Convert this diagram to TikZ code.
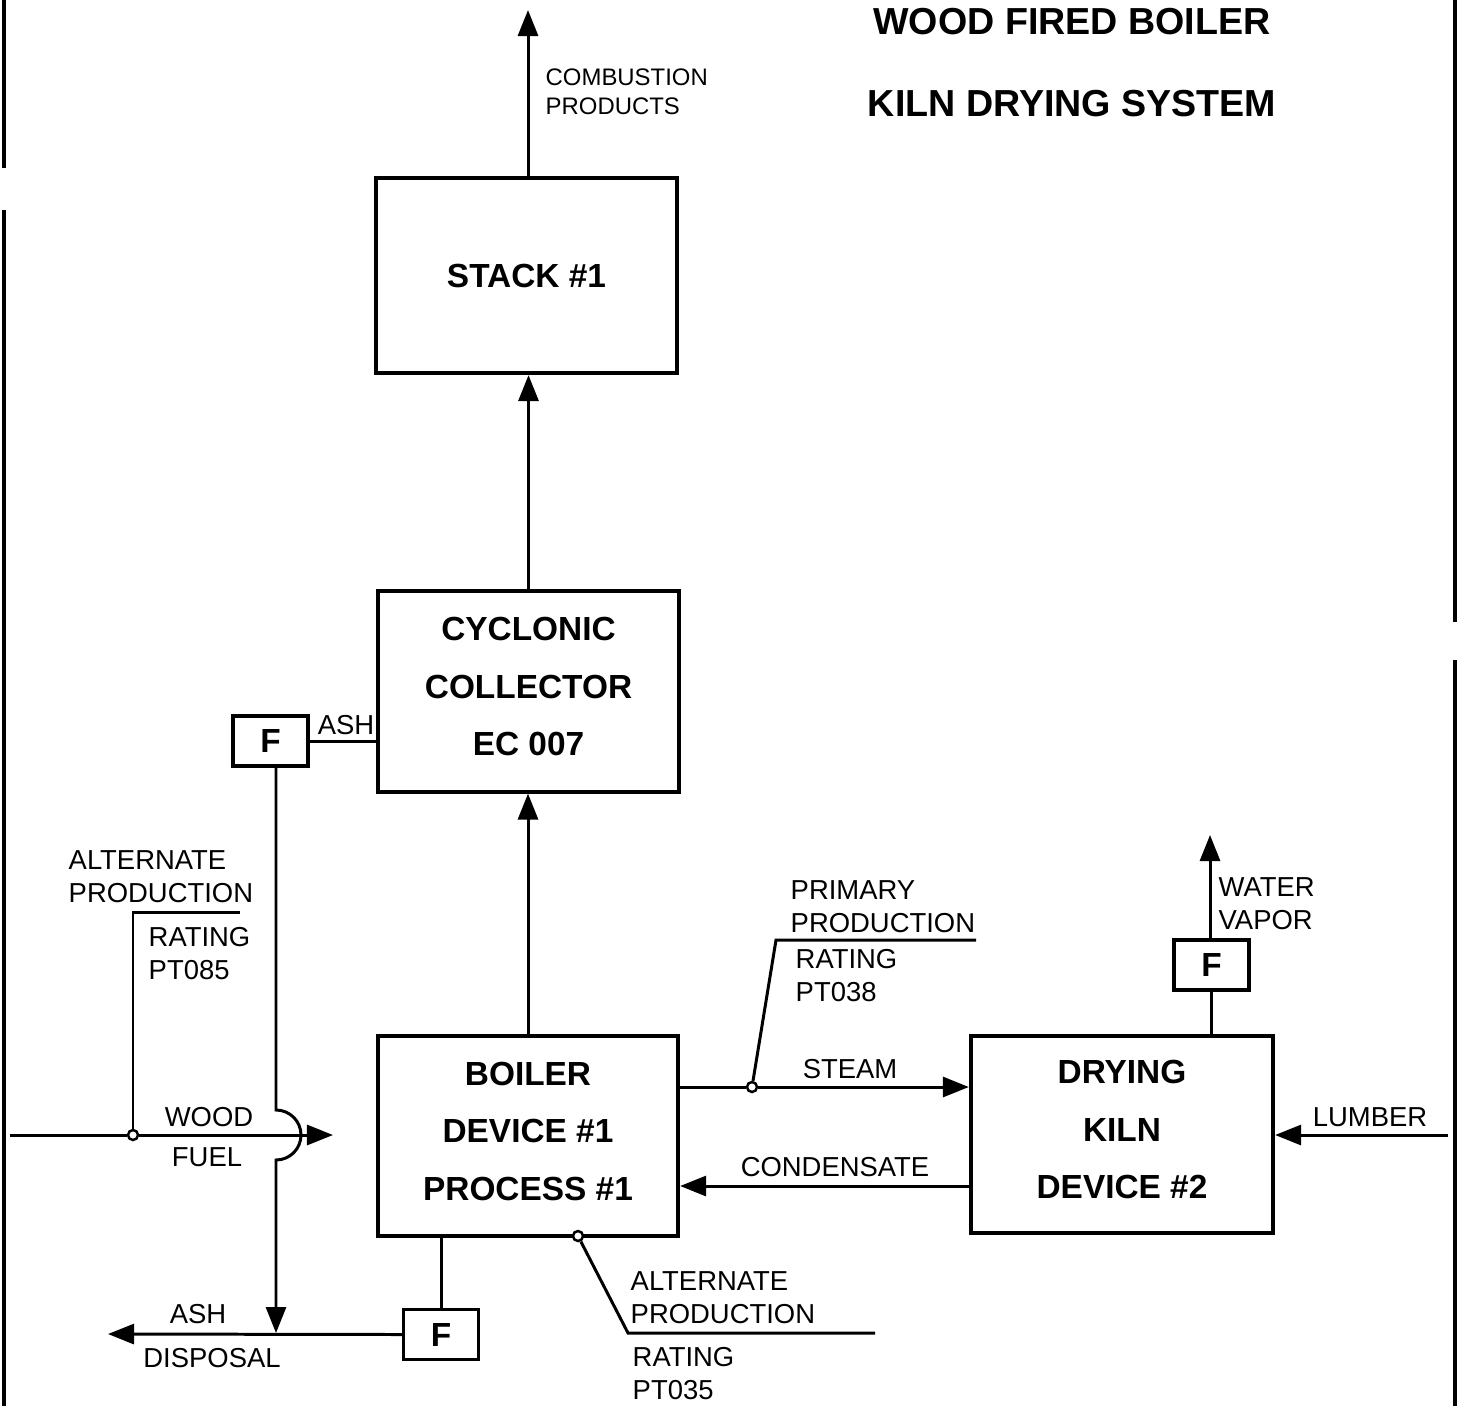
\documentclass[tikz,border=0pt]{standalone}
\usepackage{fontspec}
\setmainfont{Liberation Sans}
\usetikzlibrary{arrows.meta,calc}

\begin{document}
\begin{tikzpicture}[x=0.01cm, y=-0.01cm,
    block/.style={draw, rectangle, line width=1.15pt, minimum width=3cm, minimum height=2cm, align=center, font=\fontsize{9.5}{16.3}\selectfont\bfseries},
    triblock/.style={block, text depth=1mm},
    fbox/.style={draw, rectangle, line width=0.9pt, minimum width=0.75cm, minimum height=0.5cm, inner sep=0pt, font=\fontsize{9.5}{11}\selectfont\bfseries},
    lbl/.style={inner sep=0pt, align=left, font=\fontsize{7.8}{9.4}\selectfont},
    flow/.style={line width=0.85pt},
    arr/.style={flow, -{Triangle[length=2.6mm, width=2mm]}},
    tap/.style={draw, circle, fill=white, line width=0.7pt, minimum size=0.1cm, inner sep=0pt},
    title/.style={inner sep=0pt, font=\fontsize{10.7}{12}\selectfont\bfseries}]
    \useasboundingbox (0,0) rectangle (1458,1406);

    % Page frame
    \draw[line width=1.4pt] (4,0) -- (4,168) (4,210) -- (4,1406);
    \draw[line width=1.4pt] (1455,0) -- (1455,622) (1455,660) -- (1455,1406);

    % Title
    \node[title] (title1) at (1072,22) {WOOD FIRED BOILER};
    \node[title] (title2) at (1072,104) {KILN DRYING SYSTEM};

    % Main units
    \node[block, minimum height=1.95cm] (stack) at (526.5,275.5) {STACK \#1};
    \node[triblock] (collector) at (528.5,691.5) {CYCLONIC\\COLLECTOR\\EC 007};
    \node[triblock] (boiler) at (528,1136) {BOILER\\DEVICE \#1\\PROCESS \#1};
    \node[triblock, minimum width=3.02cm, minimum height=1.97cm] (kiln) at (1122,1134.5) {DRYING\\KILN\\DEVICE \#2};

    % F boxes
    \node[fbox] (ashf) at (270.5,741) {F};
    \node[fbox] (dumpf) at (441,1334.5) {F};
    \node[fbox] (ventf) at (1211.5,965) {F};

    % Taps for the production ratings
    \node[tap] (tapwood) at (133,1135) {};
    \node[tap] (tapsteam) at (752,1087) {};
    \node[tap] (tapalt) at (578,1236) {};

    % Free ends
    \coordinate (stacktop) at (528,10);
    \coordinate (vaporout) at (1210,835);
    \coordinate (lumberin) at (1448,1135);
    \coordinate (woodin) at (10,1135);
    \coordinate (woodend) at (333,1135);
    \coordinate (ashout) at (108,1334);
    \coordinate (ashdrop) at (276,1333);
    \coordinate (hump) at (276,1110);
    \coordinate (condy) at (0,1186);
    \coordinate (kneewood) at (133,912);
    \coordinate (endwood) at (240,912);
    \coordinate (kneesteam) at (776,940);
    \coordinate (endsteam) at (976,940);
    \coordinate (kneealt) at (628,1333);
    \coordinate (endalt) at (875,1333);

    % Gas path
    \draw[arr] (stacktop |- stack.north) -- (stacktop);
    \draw[arr] (collector.north) -- (collector.north |- stack.south);
    \draw[arr] (boiler.north) -- (boiler.north |- collector.south);

    % Ash
    \draw[flow] (ashf.east) -- (ashf.east -| collector.west);
    \draw[arr] (ashf.south -| hump) -- (hump) arc[start angle=-90, end angle=90, radius=25] -- (ashdrop);
    \draw[flow] (dumpf.north) -- (dumpf.north |- boiler.south);
    \draw[arr] (dumpf.west) -- (ashout);

    % Fuel, steam, condensate
    \draw[arr] (woodin) -- (tapwood) -- (woodend);
    \draw[arr] (boiler.east |- tapsteam) -- (tapsteam) -- (kiln.west |- tapsteam);
    \draw[arr] (kiln.west |- condy) -- (boiler.east |- condy);

    % Kiln
    \draw[flow] (ventf.south) -- (ventf.south |- kiln.north);
    \draw[arr] (vaporout |- ventf.north) -- (vaporout);
    \draw[arr] (lumberin) -- (lumberin -| kiln.east);

    % Rating leaders
    \draw[flow] (tapwood) -- (kneewood) -- (endwood);
    \draw[flow] (tapsteam) -- (kneesteam) -- (endsteam);
    \draw[flow] (tapalt) -- (kneealt) -- (endalt);

    % Labels
    \node[lbl, anchor=west, font=\fontsize{6.8}{8.3}\selectfont] (combustion) at (545,92) {COMBUSTION\\PRODUCTS};
    \node[lbl] (ashlbl) at (346,725) {ASH};
    \node[lbl, anchor=west] (altwood) at (68,876.5) {ALTERNATE\\PRODUCTION};
    \node[lbl, anchor=west] (ratewood) at (148,954) {RATING\\PT085};
    \node[lbl] (woodlbl) at (209,1117) {WOOD};
    \node[lbl] (fuellbl) at (207,1157) {FUEL};
    \node[lbl] (ashdlbl) at (198,1314) {ASH};
    \node[lbl] (displbl) at (212,1358) {DISPOSAL};
    \node[lbl, anchor=west] (primsteam) at (790,906.5) {PRIMARY\\PRODUCTION};
    \node[lbl, anchor=west] (ratesteam) at (795,976) {RATING\\PT038};
    \node[lbl] (steamlbl) at (850,1069) {STEAM};
    \node[lbl] (condlbl) at (835,1167) {CONDENSATE};
    \node[lbl, anchor=west] (vaporlbl) at (1218,903.5) {WATER\\VAPOR};
    \node[lbl] (lumberlbl) at (1370,1117) {LUMBER};
    \node[lbl, anchor=west] (altboil) at (630,1298) {ALTERNATE\\PRODUCTION};
    \node[lbl, anchor=west] (rateboil) at (632,1374) {RATING\\PT035};
\end{tikzpicture}
\end{document}
